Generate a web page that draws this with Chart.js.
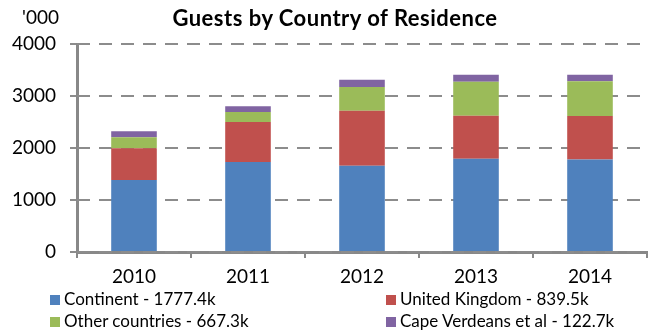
<!DOCTYPE html>
<html>
<head>
<meta charset="utf-8">
<script src="https://cdn.jsdelivr.net/npm/chart.js@4/dist/chart.umd.min.js"></script>
<style>
  html, body { margin: 0; padding: 0; background: #fff; }
  #wrap { position: relative; width: 650px; height: 331px; overflow: hidden; font-family: Lato, "Open Sans", sans-serif; }
  #c { position: absolute; left: 0; top: 0; }
  #title { position: absolute; left: 335px; top: 7px; transform: translateX(-50%); font-size: 22px; line-height: 22px; font-weight: 700; letter-spacing: 0.5px; color: #000; white-space: nowrap; }
  #unit { position: absolute; left: 22px; top: 6px; font-size: 19px; line-height: 22px; color: #000; }
  .lg { position: absolute; font-size: 17px; color: #000; white-space: nowrap; line-height: 20px; }
  .lg span.sw { display: inline-block; width: 10px; height: 10px; margin-right: 4px; vertical-align: 0px; }
</style>
</head>
<body>
<div id="wrap">
  <canvas id="c" width="650" height="331"></canvas>
  <div id="title">Guests by Country of Residence</div>
  <div id="unit">'000</div>
</div>
<script>
const categories = ['2010', '2011', '2012', '2013', '2014'];
const seriesNames = ['Continent', 'United Kingdom', 'Other countries', 'Cape Verdeans et al'];
const continent = [1385, 1731, 1660, 1795, 1777.4];
const unitedKingdom = [609, 769, 1058, 827, 839.5];
const otherCountries = [211, 192, 455, 654, 667.3];
const capeVerdeans = [116, 109, 141, 134, 122.7];
const yTicks = [0, 1000, 2000, 3000, 4000];
const colors = ['#4F81BD', '#C0504D', '#9BBB59', '#8064A2'];

const seriesValues = [continent, unitedKingdom, otherCountries, capeVerdeans];

const datasets = seriesValues.map((vals, i) => ({
  label: seriesNames[i],
  data: vals,
  backgroundColor: colors[i],
  borderWidth: 0,
  categoryPercentage: 1.0,
  barPercentage: 0.4
}));

// dashed horizontal grid lines drawn from the y scale's own ticks
const dashedGrid = {
  id: 'dashedGrid',
  beforeDatasetsDraw(chart) {
    const { ctx, chartArea, scales } = chart;
    const y = scales.y;
    ctx.save();
    ctx.strokeStyle = '#8c8c8c';
    ctx.lineWidth = 2;
    ctx.setLineDash([13, 9]);
    y.ticks.forEach(t => {
      const py = Math.round(y.getPixelForValue(t.value));
      ctx.beginPath();
      ctx.moveTo(chartArea.left, py);
      ctx.lineTo(chartArea.right, py);
      ctx.stroke();
    });
    ctx.restore();
  }
};

new Chart(document.getElementById('c'), {
  type: 'bar',
  data: { labels: categories, datasets: datasets },
  plugins: [dashedGrid],
  options: {
    responsive: false,
    animation: false,
    layout: { padding: { top: 44, right: 3, left: 0, bottom: 0 } },
    plugins: { legend: { display: false }, title: { display: false }, tooltip: { enabled: false } },
    scales: {
      x: {
        stacked: true,
        afterFit: s => { s.height = 79; },
        border: { color: '#888', width: 3 },
        grid: { offset: true, drawOnChartArea: false, drawTicks: true, tickLength: 6, color: '#888', lineWidth: 2 },
        ticks: { color: '#000', font: { family: 'Lato', size: 19 }, padding: 7 }
      },
      y: {
        stacked: true,
        min: yTicks[0],
        max: yTicks[yTicks.length - 1],
        afterFit: s => { s.width = 77; },
        afterBuildTicks: s => { s.ticks = yTicks.map(v => ({ value: v })); },
        border: { color: '#888', width: 3, display: true },
        grid: { drawOnChartArea: false, color: '#8c8c8c', lineWidth: 2, tickLength: 7, tickColor: '#8c8c8c', tickWidth: 2 },
        ticks: { color: '#000', font: { family: 'Lato', size: 19 }, padding: 14, callback: v => String(v) }
      }
    }
  }
});

// legend built from data
const wrap = document.getElementById('wrap');
const legendPos = [[50, 289], [386, 289], [50, 311], [386, 311]];
seriesNames.forEach((name, i) => {
  const vals = seriesValues[i];
  const d = document.createElement('div');
  d.className = 'lg';
  d.style.left = legendPos[i][0] + 'px';
  d.style.top = legendPos[i][1] + 'px';
  d.innerHTML = '<span class="sw" style="background:' + colors[i] + '"></span>' + name + ' - ' + vals[vals.length - 1].toFixed(1) + 'k';
  wrap.appendChild(d);
});
</script>
</body>
</html>
